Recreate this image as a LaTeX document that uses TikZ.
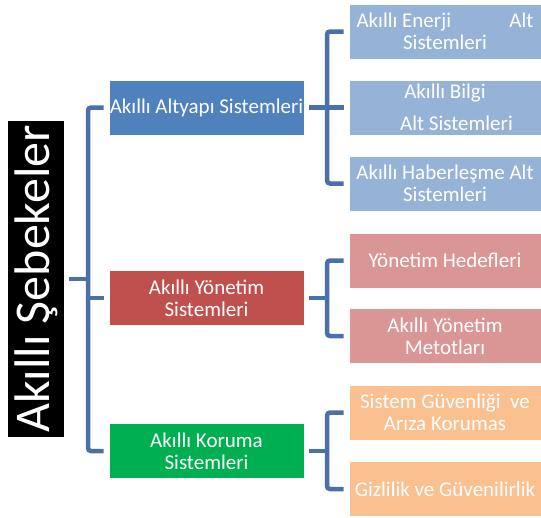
\documentclass[tikz,border=0pt]{standalone}
\usepackage{fontspec}
\setmainfont{Carlito}
\definecolor{linkblue}{HTML}{4A70A8}
\definecolor{altblue}{HTML}{4F81BD}
\definecolor{yonred}{HTML}{C0504D}
\definecolor{korgreen}{HTML}{00B050}
\definecolor{subblue}{HTML}{95B3D7}
\definecolor{subred}{HTML}{D99694}
\definecolor{suborange}{HTML}{FAC090}
\begin{document}
\begin{tikzpicture}[x=1pt,y=-1pt,
  box/.style={draw=white, line width=0.8pt, text=white, inner sep=0pt, align=center,
    font=\fontsize{21}{22}\selectfont},
  midbox/.style={box, minimum width=195pt, minimum height=55pt},
  subbox/.style={box, minimum width=192pt, minimum height=55pt},
  link/.style={draw=linkblue, line width=4.5pt, rounded corners=3pt}]
\fill[white] (0,0) rectangle (541,517);
\useasboundingbox (0,0) rectangle (541,517);

% root
\node[fill=black, text=white, inner sep=0pt, minimum width=56pt, minimum height=316pt]
  (root) at (36,279) {\rotatebox{90}{\fontsize{50}{50}\selectfont Akıllı Şebekeler}};

% second level
\node[midbox, fill=altblue] (alt) at (206.5,107.5) {Akıllı Altyapı Sistemleri};
\node[midbox, fill=yonred] (yon) at (206.5,298) {Akıllı Yönetim\\Sistemleri};
\node[midbox, fill=korgreen] (kor) at (206.5,451) {Akıllı Koruma\\Sistemleri};

% third level
\node[subbox, fill=subblue] (ene) at (445,31.5) {\makebox[177pt]{Akıllı Enerji\hfill Alt}\\Sistemleri};
\node[subbox, fill=subblue] (bil) at (445,107.5) {Akıllı Bilgi\\[9.5pt]\hspace*{23pt}Alt Sistemleri};
\node[subbox, fill=subblue] (hab) at (445,183.5) {Akıllı Haberleşme Alt\\Sistemleri};
\node[subbox, fill=subred] (hed) at (445,260.5) {Yönetim Hedefleri};
\node[subbox, fill=subred] (met) at (445,336) {Akıllı Yönetim\\Metotları};
\node[subbox, fill=suborange] (guv) at (445,412.5) {Sistem Güvenliği\ \ ve\\Arıza Korumas};
\node[subbox, fill=suborange] (giz) at (445,489) {Gizlilik ve Güvenilirlik};

% spines of the brackets
\coordinate (lsp) at (88,0);
\coordinate (rsp) at (327,0);

% root bracket
\draw[link] ([xshift=5pt]root.east) -- (lsp |- root.east);
\draw[link] ([xshift=-5pt]alt.west) -| (lsp |- kor.west) -- ([xshift=-5pt]kor.west);
\draw[link] (lsp |- yon.west) -- ([xshift=-5pt]yon.west);

% infrastructure bracket
\draw[link] ([xshift=5pt]alt.east) -- ([xshift=-5pt]bil.west);
\draw[link] ([xshift=-5pt]ene.west) -| (rsp |- hab.west) -- ([xshift=-5pt]hab.west);

% management bracket
\draw[link] ([xshift=5pt]yon.east) -- (rsp |- yon.east);
\draw[link] ([xshift=-5pt]hed.west) -| (rsp |- met.west) -- ([xshift=-5pt]met.west);

% protection bracket
\draw[link] ([xshift=5pt]kor.east) -- (rsp |- kor.east);
\draw[link] ([xshift=-5pt]guv.west) -| (rsp |- giz.west) -- ([xshift=-5pt]giz.west);
\end{tikzpicture}
\end{document}
